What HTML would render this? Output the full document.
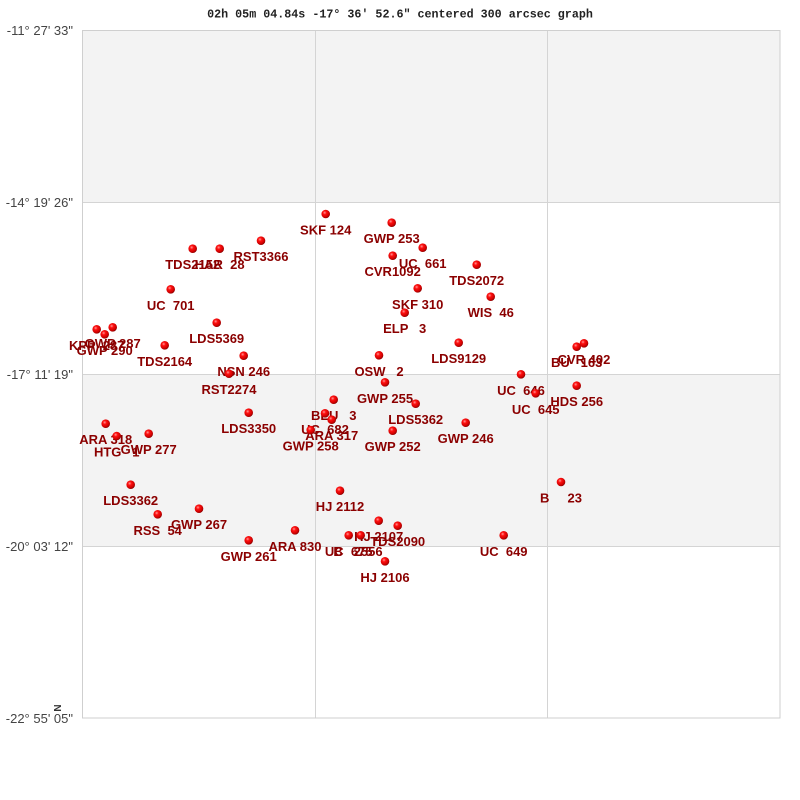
<!DOCTYPE html>
<html>
<head>
<meta charset="utf-8">
<style>
  html,body{margin:0;padding:0;background:#fff;}
  svg{display:block;}
  .lab{font-family:"Liberation Sans",Arial,sans-serif;font-weight:bold;font-size:13px;fill:#8b0000;text-anchor:middle;white-space:pre;}
  .ax{font-family:"Liberation Sans",Arial,sans-serif;font-size:13px;fill:#444;text-anchor:end;}
  .title{font-family:"Liberation Mono",monospace;font-weight:bold;font-size:11.7px;fill:#222;text-anchor:middle;}
</style>
</head>
<body>
<svg width="800" height="800" viewBox="0 0 800 800" xmlns="http://www.w3.org/2000/svg">
  <defs>
    <radialGradient id="ball" cx="0.38" cy="0.35" r="0.7">
      <stop offset="0" stop-color="#ff9a9a"/>
      <stop offset="0.3" stop-color="#ff1010"/>
      <stop offset="0.75" stop-color="#cc0000"/>
      <stop offset="1" stop-color="#7a0000"/>
    </radialGradient>
  </defs>
  <rect x="0" y="0" width="800" height="800" fill="#fff"/>
  <text class="title" x="400" y="17.5" xml:space="preserve">02h 05m 04.84s -17° 36′ 52.6" centered 300 arcsec graph</text>

  <rect x="82" y="30" width="698" height="172" fill="#f3f3f3"/>
  <rect x="82" y="374" width="698" height="172" fill="#f3f3f3"/>
  <g stroke="#d4d4d4" stroke-width="1" shape-rendering="crispEdges">
    <line x1="82" y1="202.5" x2="780" y2="202.5"/>
    <line x1="82" y1="374.5" x2="780" y2="374.5"/>
    <line x1="82" y1="546.5" x2="780" y2="546.5"/>
    <line x1="315.5" y1="30" x2="315.5" y2="718"/>
    <line x1="547.5" y1="30" x2="547.5" y2="718"/>
  </g>
  <rect x="82.5" y="30.5" width="697.5" height="687.5" fill="none" stroke="#cfcfcf" stroke-width="1" shape-rendering="crispEdges"/>

  <text class="ax" x="73" y="35">-11° 27' 33"</text>
  <text class="ax" x="73" y="207">-14° 19' 26"</text>
  <text class="ax" x="73" y="379">-17° 11' 19"</text>
  <text class="ax" x="73" y="551">-20° 03' 12"</text>
  <text class="ax" x="73" y="723">-22° 55' 05"</text>

  <text x="61" y="708" transform="rotate(-90 61 708)" font-family="Liberation Sans,Arial,sans-serif" font-weight="bold" font-size="10" fill="#333" text-anchor="middle">N</text>

  <g class="lab">
    <text class="lab" x="325.7" y="234.5" xml:space="preserve">SKF 124</text>
    <text class="lab" x="391.7" y="243.2" xml:space="preserve">GWP 253</text>
    <text class="lab" x="422.7" y="268.2" xml:space="preserve">UC  661</text>
    <text class="lab" x="392.7" y="276.2" xml:space="preserve">CVR1092</text>
    <text class="lab" x="261" y="261.2" xml:space="preserve">RST3366</text>
    <text class="lab" x="192.7" y="269.2" xml:space="preserve">TDS2152</text>
    <text class="lab" x="219.7" y="269.2" xml:space="preserve">HAR  28</text>
    <text class="lab" x="476.7" y="285.2" xml:space="preserve">TDS2072</text>
    <text class="lab" x="170.7" y="309.8" xml:space="preserve">UC  701</text>
    <text class="lab" x="417.7" y="308.8" xml:space="preserve">SKF 310</text>
    <text class="lab" x="490.7" y="317.2" xml:space="preserve">WIS  46</text>
    <text class="lab" x="404.7" y="333.2" xml:space="preserve">ELP   3</text>
    <text class="lab" x="216.7" y="343.2" xml:space="preserve">LDS5369</text>
    <text class="lab" x="96.7" y="349.8" xml:space="preserve">KPP  287</text>
    <text class="lab" x="112.7" y="347.8" xml:space="preserve">GWP 287</text>
    <text class="lab" x="104.7" y="354.8" xml:space="preserve">GWP 290</text>
    <text class="lab" x="164.7" y="365.8" xml:space="preserve">TDS2164</text>
    <text class="lab" x="458.7" y="363.2" xml:space="preserve">LDS9129</text>
    <text class="lab" x="576.7" y="367.2" xml:space="preserve">BU   163</text>
    <text class="lab" x="584" y="363.8" xml:space="preserve">CVR 402</text>
    <text class="lab" x="243.7" y="376.2" xml:space="preserve">NSN 246</text>
    <text class="lab" x="379" y="375.8" xml:space="preserve">OSW   2</text>
    <text class="lab" x="229" y="394.2" xml:space="preserve">RST2274</text>
    <text class="lab" x="521" y="394.8" xml:space="preserve">UC  646</text>
    <text class="lab" x="385" y="402.8" xml:space="preserve">GWP 255</text>
    <text class="lab" x="576.7" y="406.2" xml:space="preserve">HDS 256</text>
    <text class="lab" x="535.7" y="413.8" xml:space="preserve">UC  645</text>
    <text class="lab" x="333.7" y="420.2" xml:space="preserve">BEU   3</text>
    <text class="lab" x="415.7" y="424.2" xml:space="preserve">LDS5362</text>
    <text class="lab" x="248.7" y="433.2" xml:space="preserve">LDS3350</text>
    <text class="lab" x="325" y="433.8" xml:space="preserve">UC  682</text>
    <text class="lab" x="331.7" y="440.2" xml:space="preserve">ARA 317</text>
    <text class="lab" x="465.7" y="443.2" xml:space="preserve">GWP 246</text>
    <text class="lab" x="105.7" y="444.2" xml:space="preserve">ARA 318</text>
    <text class="lab" x="310.7" y="450.5" xml:space="preserve">GWP 258</text>
    <text class="lab" x="392.7" y="451.2" xml:space="preserve">GWP 252</text>
    <text class="lab" x="148.7" y="454.2" xml:space="preserve">GWP 277</text>
    <text class="lab" x="116.7" y="456.5" xml:space="preserve">HTG   1</text>
    <text class="lab" x="130.7" y="505.2" xml:space="preserve">LDS3362</text>
    <text class="lab" x="340" y="511.2" xml:space="preserve">HJ 2112</text>
    <text class="lab" x="561" y="502.5" xml:space="preserve">B     23</text>
    <text class="lab" x="157.7" y="534.8" xml:space="preserve">RSS  54</text>
    <text class="lab" x="199" y="529.2" xml:space="preserve">GWP 267</text>
    <text class="lab" x="378.7" y="541.2" xml:space="preserve">HJ 2107</text>
    <text class="lab" x="397.7" y="546.2" xml:space="preserve">TDS2090</text>
    <text class="lab" x="295" y="550.8" xml:space="preserve">ARA 830</text>
    <text class="lab" x="248.7" y="560.8" xml:space="preserve">GWP 261</text>
    <text class="lab" x="348.7" y="555.8" xml:space="preserve">UC  675</text>
    <text class="lab" x="358" y="555.8" xml:space="preserve">B   2556</text>
    <text class="lab" x="503.7" y="555.8" xml:space="preserve">UC  649</text>
    <text class="lab" x="385" y="581.8" xml:space="preserve">HJ 2106</text>
  </g>

  <g fill="url(#ball)">
    <circle cx="325.7" cy="214" r="4.3"/>
    <circle cx="391.7" cy="222.7" r="4.3"/>
    <circle cx="422.7" cy="247.7" r="4.3"/>
    <circle cx="392.7" cy="255.7" r="4.3"/>
    <circle cx="261" cy="240.7" r="4.3"/>
    <circle cx="192.7" cy="248.7" r="4.3"/>
    <circle cx="219.7" cy="248.7" r="4.3"/>
    <circle cx="476.7" cy="264.7" r="4.3"/>
    <circle cx="170.7" cy="289.3" r="4.3"/>
    <circle cx="417.7" cy="288.3" r="4.3"/>
    <circle cx="490.7" cy="296.7" r="4.3"/>
    <circle cx="404.7" cy="312.7" r="4.3"/>
    <circle cx="216.7" cy="322.7" r="4.3"/>
    <circle cx="96.7" cy="329.3" r="4.3"/>
    <circle cx="112.7" cy="327.3" r="4.3"/>
    <circle cx="104.7" cy="334.3" r="4.3"/>
    <circle cx="164.7" cy="345.3" r="4.3"/>
    <circle cx="458.7" cy="342.7" r="4.3"/>
    <circle cx="576.7" cy="346.7" r="4.3"/>
    <circle cx="584" cy="343.3" r="4.3"/>
    <circle cx="243.7" cy="355.7" r="4.3"/>
    <circle cx="379" cy="355.3" r="4.3"/>
    <circle cx="229" cy="373.7" r="4.3"/>
    <circle cx="521" cy="374.3" r="4.3"/>
    <circle cx="385" cy="382.3" r="4.3"/>
    <circle cx="576.7" cy="385.7" r="4.3"/>
    <circle cx="535.7" cy="393.3" r="4.3"/>
    <circle cx="333.7" cy="399.7" r="4.3"/>
    <circle cx="415.7" cy="403.7" r="4.3"/>
    <circle cx="248.7" cy="412.7" r="4.3"/>
    <circle cx="325" cy="413.3" r="4.3"/>
    <circle cx="331.7" cy="419.7" r="4.3"/>
    <circle cx="465.7" cy="422.7" r="4.3"/>
    <circle cx="105.7" cy="423.7" r="4.3"/>
    <circle cx="310.7" cy="430" r="4.3"/>
    <circle cx="392.7" cy="430.7" r="4.3"/>
    <circle cx="148.7" cy="433.7" r="4.3"/>
    <circle cx="116.7" cy="436" r="4.3"/>
    <circle cx="130.7" cy="484.7" r="4.3"/>
    <circle cx="340" cy="490.7" r="4.3"/>
    <circle cx="561" cy="482" r="4.3"/>
    <circle cx="157.7" cy="514.3" r="4.3"/>
    <circle cx="199" cy="508.7" r="4.3"/>
    <circle cx="378.7" cy="520.7" r="4.3"/>
    <circle cx="397.7" cy="525.7" r="4.3"/>
    <circle cx="295" cy="530.3" r="4.3"/>
    <circle cx="248.7" cy="540.3" r="4.3"/>
    <circle cx="348.7" cy="535.3" r="4.3"/>
    <circle cx="360.7" cy="535.3" r="4.3"/>
    <circle cx="503.7" cy="535.3" r="4.3"/>
    <circle cx="385" cy="561.3" r="4.3"/>
  </g>
</svg>
</body>
</html>
